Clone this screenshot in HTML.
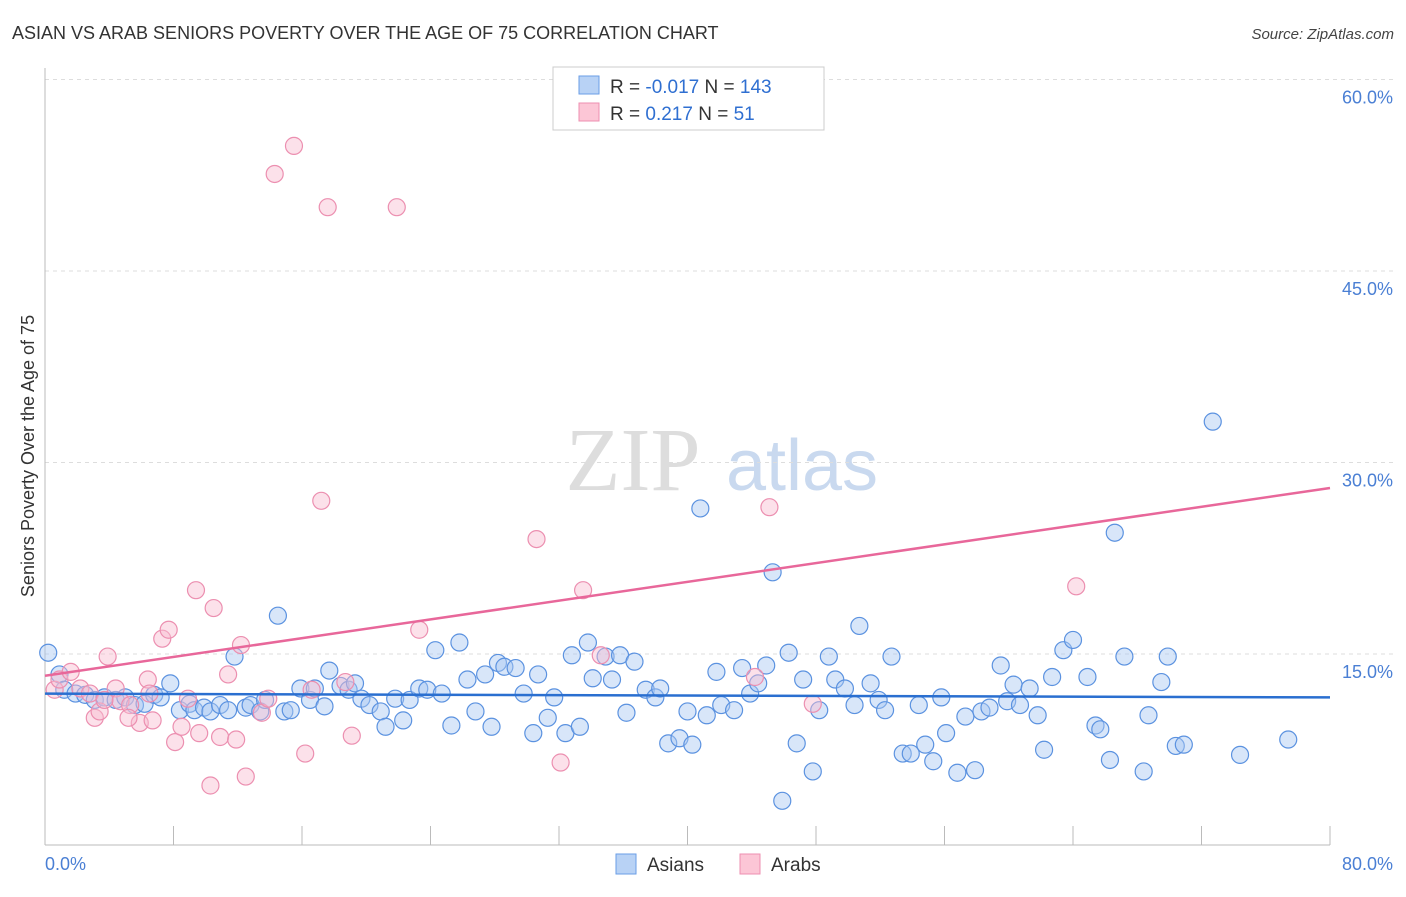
<!DOCTYPE html>
<html><head><meta charset="utf-8"><style>
body{margin:0;background:#fff;font-family:"Liberation Sans",sans-serif}
</style></head><body>
<svg id="c" width="1406" height="892" xmlns="http://www.w3.org/2000/svg" font-family="Liberation Sans, sans-serif">
<text x="12" y="39" font-size="18" fill="#333">ASIAN VS ARAB SENIORS POVERTY OVER THE AGE OF 75 CORRELATION CHART</text>
<text x="1394" y="39" font-size="15" fill="#444" text-anchor="end" font-style="italic">Source: ZipAtlas.com</text>
<g><text x="633" y="490" font-size="90" fill="#ddd" font-family="Liberation Serif, serif" text-anchor="middle">ZIP</text><text x="802" y="490" font-size="72" fill="#c9d9ef" text-anchor="middle">atlas</text></g>
<g id="grid"></g><g id="axes"></g><g id="pts"></g><g id="trend"></g>
<text transform="translate(34,456) rotate(-90)" font-size="18" fill="#333" text-anchor="middle">Seniors Poverty Over the Age of 75</text>
<text x="45" y="870" font-size="18" fill="#4a7fd4">0.0%</text>
<text x="1393" y="870" font-size="18" fill="#4a7fd4" text-anchor="end">80.0%</text>
<g>
<rect x="553" y="67" width="271" height="63" fill="#fff" stroke="#ccc"/>
<rect x="579" y="76" width="20" height="18" fill="#b8d2f5" stroke="#6a9ee6"/>
<rect x="579" y="103" width="20" height="18" fill="#fcc6d6" stroke="#ee8fb0"/>
<text x="610" y="93" font-size="19" fill="#333">R = <tspan fill="#2f6fd1">-0.017</tspan>   N = <tspan fill="#2f6fd1">143</tspan></text>
<text x="610" y="120" font-size="19" fill="#333">R =  <tspan fill="#2f6fd1"> 0.217</tspan>   N =  <tspan fill="#2f6fd1">  51</tspan></text>
</g>
<g>
<rect x="616" y="854" width="20" height="20" fill="#b8d2f5" stroke="#6a9ee6"/>
<text x="647" y="871" font-size="19" fill="#333">Asians</text>
<rect x="740" y="854" width="20" height="20" fill="#fcc6d6" stroke="#ee8fb0"/>
<text x="771" y="871" font-size="19" fill="#333">Arabs</text>
</g>
</svg>
<script>
const yTicks=[15,30,45,60];
const yTickLabels=["15.0%","30.0%","45.0%","60.0%"];
const asianX=[0.2,0.9,1.2,1.9,2.5,3.1,3.7,4.4,5.0,5.6,6.2,6.8,7.2,7.8,8.4,9.0,9.3,9.9,10.3,10.9,11.4,11.8,12.5,12.8,13.4,13.7,14.5,14.9,15.3,15.9,16.5,16.8,17.4,17.7,18.4,18.9,19.3,19.7,20.2,20.9,21.2,21.8,22.3,22.7,23.3,23.8,24.3,24.7,25.3,25.8,26.3,26.8,27.4,27.8,28.2,28.6,29.3,29.8,30.4,30.7,31.3,31.7,32.4,32.8,33.3,33.8,34.1,34.9,35.3,35.8,36.2,36.7,37.4,38.0,38.3,38.8,39.5,40.0,40.3,40.8,41.2,41.8,42.1,42.9,43.4,43.9,44.4,44.9,45.3,46.3,46.8,47.2,47.8,48.2,48.8,49.2,49.8,50.4,50.7,51.4,51.9,52.3,52.7,53.4,53.9,54.4,54.8,55.3,55.8,56.1,56.8,57.3,57.9,58.3,58.8,59.5,59.9,60.3,60.7,61.3,61.8,62.2,62.7,63.4,64.0,64.9,65.4,65.7,66.3,66.6,67.2,68.4,68.7,69.5,69.9,70.4,70.9,72.7,74.4,77.4,45.9];
const asianY=[15.1,13.4,12.2,11.9,11.8,11.4,11.6,11.4,11.6,11.0,11.1,11.8,11.6,12.7,10.6,11.1,10.6,10.8,10.5,11.0,10.6,14.8,10.8,11.0,10.5,11.4,18.0,10.5,10.6,12.3,11.4,12.3,10.9,13.7,12.5,12.2,12.7,11.5,11.0,10.5,9.3,11.5,9.8,11.4,12.3,12.2,15.3,11.9,9.4,15.9,13.0,10.5,13.4,9.3,14.3,14.0,13.9,11.9,8.8,13.4,10.0,11.6,8.8,14.9,9.3,15.9,13.1,14.8,13.0,14.9,10.4,14.4,12.2,11.6,12.3,8.0,8.4,10.5,7.9,26.4,10.2,13.6,11.0,10.6,13.9,11.9,12.7,14.1,21.4,15.1,8.0,13.0,5.8,10.6,14.8,13.0,12.3,11.0,17.2,12.7,11.4,10.6,14.8,7.2,7.2,11.0,7.9,6.6,11.6,8.8,5.7,10.1,5.9,10.5,10.8,14.1,11.3,12.6,11.0,12.3,10.2,7.5,13.2,15.3,16.1,13.2,9.4,9.1,6.7,24.5,14.8,5.8,10.2,12.8,14.8,7.8,7.9,33.2,7.1,8.3,3.5];
const arabX=[0.6,0.9,1.6,2.2,2.8,3.1,3.4,3.9,4.4,4.7,5.3,5.9,6.4,6.7,7.3,7.7,8.1,8.5,8.9,9.4,9.6,10.3,10.5,10.9,11.4,11.9,12.2,12.5,13.5,13.9,14.3,15.5,16.2,16.6,17.2,17.6,18.7,19.1,21.9,23.3,30.6,32.1,33.5,34.6,44.2,45.1,47.8,64.2,6.5,5.2,3.7];
const arabY=[12.2,13.0,13.6,12.3,11.9,10.0,10.5,14.8,12.3,11.3,11.0,9.6,13.0,9.8,16.2,16.9,8.1,9.3,11.5,20.0,8.8,4.7,18.6,8.5,13.4,8.3,15.7,5.4,10.4,11.5,52.6,54.8,7.2,12.2,27.0,50.0,12.8,8.6,50.0,16.9,24.0,6.5,20.0,14.9,13.2,26.5,11.1,20.3,11.9,10.0,11.4];
const asianTrend=[11.9,11.6];
const arabTrend=[13.3,28.0];
const X0=45,X1=1330,Y0=845.5,YS=191.5/15;
const sx=v=>X0+(X1-X0)*v/80, sy=v=>Y0-v*YS;
const NS="http://www.w3.org/2000/svg";
function mk(p,t,a){const e=document.createElementNS(NS,t);for(const k in a)e.setAttribute(k,a[k]);p.appendChild(e);return e;}
const grid=document.getElementById('grid'),axes=document.getElementById('axes'),pts=document.getElementById('pts'),tr=document.getElementById('trend');
yTicks.forEach((t,i)=>{const l=mk(grid,'line',{x1:X0,x2:1394,y1:sy(t),y2:sy(t),stroke:'#ddd','stroke-dasharray':'4,4'});


const tx=mk(grid,'text',{x:1393,y:sy(t)+24,'font-size':18,fill:'#4a7fd4','text-anchor':'end'});tx.textContent=yTickLabels[i];

});
let a=mk(axes,'line',{x1:X0,x2:X0,y1:68,y2:845,stroke:'#bbb'});
a=mk(axes,'line',{x1:X0,x2:X1,y1:845,y2:845,stroke:'#bbb'});
for(let i=0;i<=10;i++){const t=mk(axes,'line',{x1:sx(i*8),x2:sx(i*8),y1:826,y2:845,stroke:'#bbb'});

}
function dots(xs,ys,fill,stroke,name){xs.forEach((x,i)=>{const c=mk(pts,'circle',{cx:sx(x),cy:sy(ys[i]),r:8.5,fill:fill,'fill-opacity':0.45,stroke:stroke,'stroke-width':1.2});

});}
dots(asianX,asianY,'#a8c8f2','#5b92e0','asian-point');
dots(arabX,arabY,'#f9bcd0','#ec8fb0','arab-point');
let l=mk(tr,'line',{x1:sx(0),x2:sx(80),y1:sy(asianTrend[0]),y2:sy(asianTrend[1]),stroke:'#2a6fd0','stroke-width':2.5});

l=mk(tr,'line',{x1:sx(0),x2:sx(80),y1:sy(arabTrend[0]),y2:sy(arabTrend[1]),stroke:'#e8679a','stroke-width':2.5});

</script>
</body></html>
